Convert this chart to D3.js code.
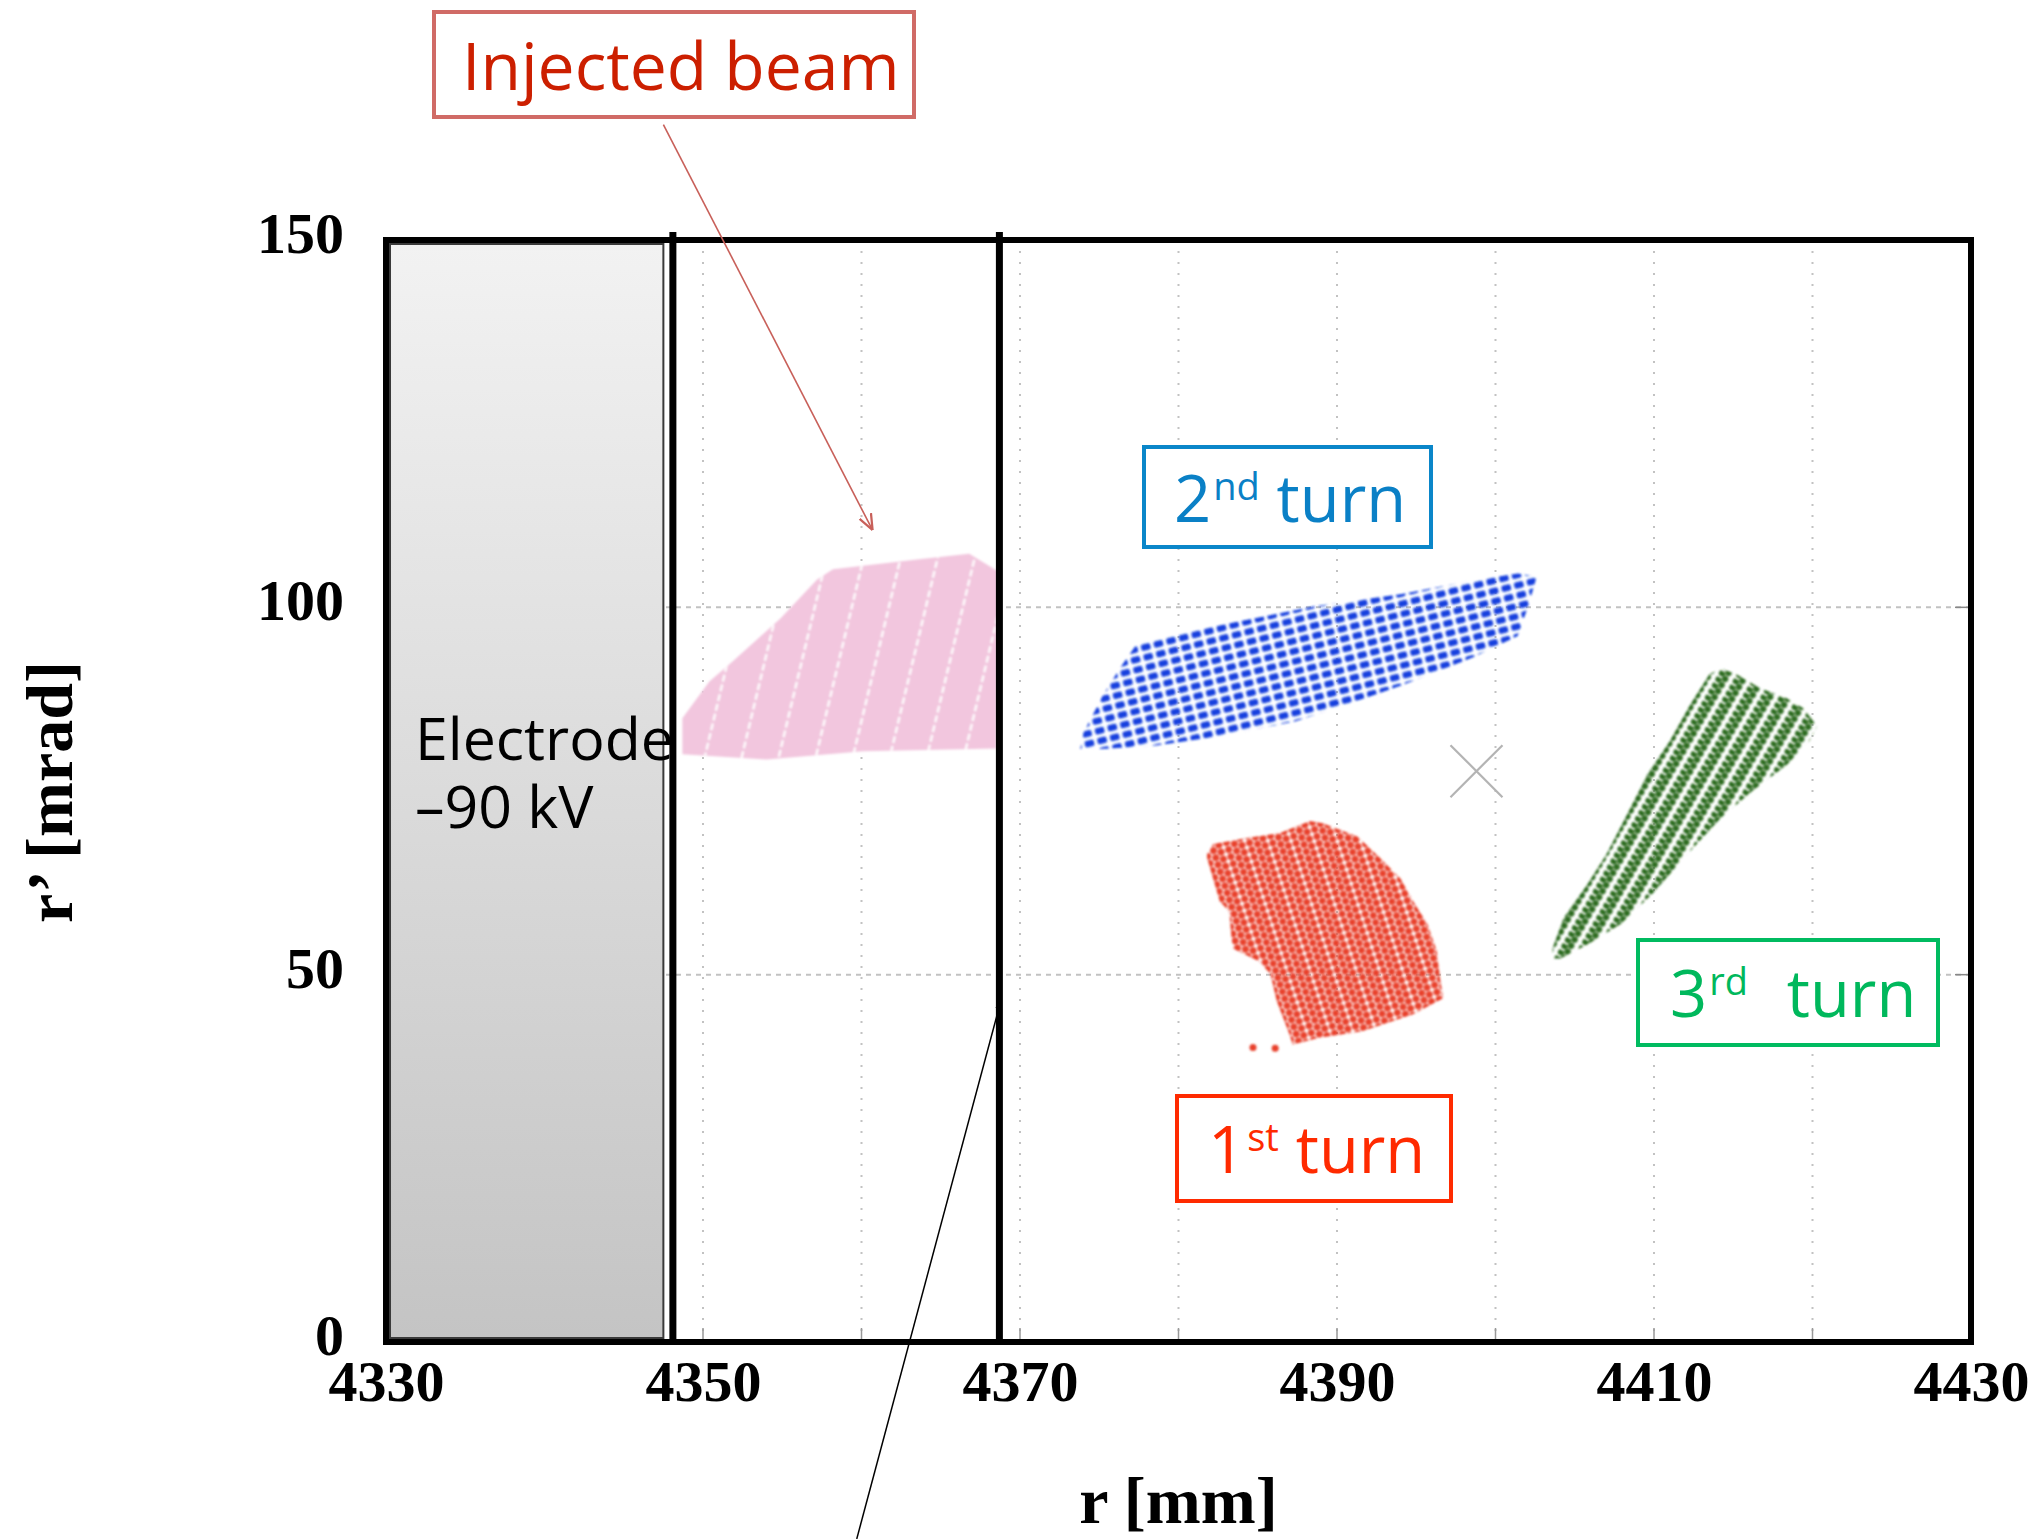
<!DOCTYPE html>
<html>
<head>
<meta charset="utf-8">
<script src="https://cdn.jsdelivr.net/npm/d3@7"></script>
<style>
  body { margin: 0; background: #fff; }
  svg { display: block; }
</style>
</head>
<body>
<div id="chart"></div>
<script>
// axis ticks and grid
const xTicks = [4330, 4350, 4370, 4390, 4410, 4430];
const yTicks = [0, 50, 100, 150];
const xGrid = [4340, 4350, 4360, 4370, 4380, 4390, 4400, 4410, 4420];
const yGrid = [50, 100];

// electrode and the two septum walls (r in mm)
const electrode = [4330, 4347.5];
const walls = [4348.1, 4368.7];
const closedOrbit = [4398.8, 77.7];

// beam outlines: [r (mm), r' (mrad)]
const injectedBeam = [
  [4348.7, 84.9], [4350.4, 89.9], [4351.9, 92.7], [4354.9, 98.5], [4357.2, 103.8],
  [4358.2, 105.2], [4363.5, 106.5], [4366.8, 107.3], [4368.6, 104.9], [4368.5, 80.8],
  [4360.1, 80.4], [4354.0, 79.3], [4348.7, 80.0]
];
const turn1Beam = [
  [4381.8, 66.4], [4382.2, 67.8], [4384.3, 68.6], [4386.4, 69.3], [4388.3, 70.9],
  [4389.1, 70.6], [4391.3, 68.8], [4392.7, 65.9], [4394.0, 63.1], [4394.8, 60.0],
  [4395.7, 56.9], [4396.3, 53.2], [4396.5, 49.5], [4396.7, 46.8], [4394.8, 44.6],
  [4391.6, 42.3], [4388.9, 41.4], [4387.2, 40.5], [4387.0, 41.9], [4386.2, 46.4],
  [4385.8, 50.1], [4385.1, 51.8], [4383.4, 53.6], [4383.2, 58.6], [4382.6, 60.0],
  [4381.8, 65.9]
];
const turn1Strays = [[4384.7, 40.1], [4386.1, 40.0]];
const turn2Beam = [
  [4373.8, 80.7], [4374.0, 82.9], [4375.2, 87.9], [4376.3, 91.7], [4377.4, 95.1],
  [4379.7, 96.3], [4384.1, 98.2], [4388.5, 100.1], [4394.1, 101.8], [4398.6, 103.7],
  [4401.4, 104.6], [4402.6, 104.2], [4402.1, 100.4], [4401.4, 96.1], [4398.6, 93.2],
  [4394.1, 89.4], [4390.8, 86.9], [4387.4, 84.5], [4383.0, 82.6], [4378.6, 81.2],
  [4375.2, 80.7]
];
const turn3Beam = [
  [4403.6, 52.2], [4403.6, 53.6], [4404.3, 57.7], [4405.8, 62.3], [4407.0, 66.4],
  [4408.3, 71.8], [4409.6, 77.3], [4411.0, 81.8], [4412.3, 86.8], [4413.5, 90.9],
  [4414.2, 91.7], [4415.2, 90.9], [4416.7, 89.0], [4418.4, 87.6], [4419.4, 86.3],
  [4420.3, 83.8], [4419.8, 81.8], [4418.4, 78.6], [4416.2, 75.0], [4414.2, 71.3],
  [4412.1, 66.4], [4409.9, 61.0], [4407.9, 56.9], [4405.8, 54.1], [4404.1, 52.2]
];

// arrows: [from, to] in data units
const injectArrow = [[4347.5, 165.7], [4360.7, 110.5]];
const wallArrow = [[4359.7, -26.8], [4368.8, 46.5]];

drawChart();

function drawChart() {
  const width = 2036, height = 1539;

  const svg = d3.select("#chart")
    .append("svg")
    .attr("width", width)
    .attr("height", height)
    .style("background", "#fff");

  const x = d3.scaleLinear().domain([4330, 4430]).range([386, 1971]);
  const y = d3.scaleLinear().domain([0, 150]).range([1342, 240]);

  const defs = svg.append("defs");

  const grad = defs.append("linearGradient")
    .attr("id", "electrode-grad")
    .attr("x1", 0).attr("y1", 0).attr("x2", 0).attr("y2", 1);
  grad.append("stop").attr("offset", "0%").attr("stop-color", "#f2f2f2");
  grad.append("stop").attr("offset", "100%").attr("stop-color", "#c4c4c4");

  defs.append("filter").attr("id", "soft")
    .append("feGaussianBlur").attr("stdDeviation", 0.8);

  // dot textures for the beams
  let pBlue = makePattern("dots-blue", 13, 10, -14);
  pBlue.append("rect").attr("x", 1.5).attr("y", 1.8).attr("width", 9.5).attr("height", 6.4)
    .attr("rx", 2).attr("fill", "#1440de");

  let pRed = makePattern("dots-red", 22, 7.4, -18);
  [4, 11.2, 18].forEach((cx, i) => {
    pRed.append("circle").attr("cx", cx).attr("cy", i === 1 ? 0 : 3.7).attr("r", 3.5).attr("fill", "#e8402c");
  });
  pRed.append("circle").attr("cx", 11.2).attr("cy", 7.4).attr("r", 3.5).attr("fill", "#e8402c");

  let pGreen = makePattern("dots-green", 16, 7, 30);
  pGreen.append("circle").attr("cx", 4).attr("cy", 2).attr("r", 3.2).attr("fill", "#2c6a1e");
  pGreen.append("circle").attr("cx", 9.5).attr("cy", 5.5).attr("r", 3.2).attr("fill", "#2c6a1e");
  pGreen.append("circle").attr("cx", 9.5).attr("cy", -1.5).attr("r", 3.2).attr("fill", "#2c6a1e");

  let pPink = makePattern("gaps-pink", 36, 10, 13.5);
  pPink.append("line").attr("x1", 34).attr("x2", 34).attr("y1", 0).attr("y2", 10)
    .attr("stroke", "#fff").attr("stroke-width", 2.2).attr("stroke-dasharray", "4 3");

  function makePattern(id, w, h, angle) {
    return defs.append("pattern")
      .attr("id", id)
      .attr("patternUnits", "userSpaceOnUse")
      .attr("width", w)
      .attr("height", h)
      .attr("patternTransform", "rotate(" + angle + ")");
  }

  defs.append("marker")
    .attr("id", "head-red")
    .attr("viewBox", "0 0 10 10")
    .attr("refX", 10).attr("refY", 5)
    .attr("markerUnits", "userSpaceOnUse")
    .attr("markerWidth", 16).attr("markerHeight", 16)
    .attr("orient", "auto")
    .append("path").attr("d", "M0,1 L10,5 L0,9")
    .attr("fill", "none").attr("stroke", "#c8605a").attr("stroke-width", 1.4);

  defs.append("marker")
    .attr("id", "head-black")
    .attr("viewBox", "0 0 10 10")
    .attr("refX", 10).attr("refY", 5)
    .attr("markerUnits", "userSpaceOnUse")
    .attr("markerWidth", 9).attr("markerHeight", 9)
    .attr("orient", "auto")
    .append("path").attr("d", "M0,1 L10,5 L0,9 Z")
    .attr("fill", "#000");

  // grid
  let grid = svg.append("g").attr("class", "grid");
  grid.selectAll(".vgrid")
    .data(xGrid)
    .enter().append("line")
    .attr("x1", d => x(d)).attr("x2", d => x(d))
    .attr("y1", y(150)).attr("y2", y(0))
    .attr("stroke", "#c2c2c2").attr("stroke-width", 2)
    .attr("stroke-dasharray", "2 9");
  grid.selectAll(".hgrid")
    .data(yGrid)
    .enter().append("line")
    .attr("x1", x(4330)).attr("x2", x(4430))
    .attr("y1", d => y(d)).attr("y2", d => y(d))
    .attr("stroke", "#c2c2c2").attr("stroke-width", 2)
    .attr("stroke-dasharray", "5 5");
  // short inner ticks
  grid.selectAll(".btick")
    .data(xGrid)
    .enter().append("line")
    .attr("x1", d => x(d)).attr("x2", d => x(d))
    .attr("y1", y(0) - 14).attr("y2", y(0))
    .attr("stroke", "#999").attr("stroke-width", 1.5);
  grid.selectAll(".rtick")
    .data(yGrid)
    .enter().append("line")
    .attr("x1", x(4430) - 16).attr("x2", x(4430))
    .attr("y1", d => y(d)).attr("y2", d => y(d))
    .attr("stroke", "#888").attr("stroke-width", 1.5);

  // electrode
  svg.append("rect")
    .attr("x", x(electrode[0]) + 4)
    .attr("y", y(150) + 4)
    .attr("width", x(electrode[1]) - x(electrode[0]) - 4)
    .attr("height", y(0) - y(150) - 8)
    .attr("fill", "url(#electrode-grad)")
    .attr("stroke", "#3a3a3a")
    .attr("stroke-width", 2);

  svg.append("text")
    .attr("x", 415)
    .attr("font-family", "'Open Sans', sans-serif")
    .attr("font-size", 59)
    .attr("fill", "#000")
    .selectAll("tspan")
    .data(["Electrode", "\u201390 kV"])
    .enter().append("tspan")
    .attr("x", 415)
    .attr("y", (d, i) => 760 + i * 68)
    .text(d => d);

  // beams
  const line = d3.line().x(d => x(d[0])).y(d => y(d[1]));
  const beams = svg.append("g").attr("filter", "url(#soft)");

  beams.append("path")
    .attr("d", line(injectedBeam) + "Z")
    .attr("fill", "#f2c6de");
  beams.append("path")
    .attr("d", line(injectedBeam) + "Z")
    .attr("fill", "url(#gaps-pink)");
  beams.append("path")
    .attr("d", line(turn2Beam) + "Z")
    .attr("fill", "url(#dots-blue)");
  beams.append("path")
    .attr("d", line(turn1Beam) + "Z")
    .attr("fill", "url(#dots-red)");
  beams.selectAll(".stray")
    .data(turn1Strays)
    .enter().append("circle")
    .attr("cx", d => x(d[0])).attr("cy", d => y(d[1]))
    .attr("r", 3.5).attr("fill", "#e8402c");
  beams.append("path")
    .attr("d", line(turn3Beam) + "Z")
    .attr("fill", "url(#dots-green)");

  // closed orbit cross
  let cx = x(closedOrbit[0]), cy = y(closedOrbit[1]);
  svg.append("path")
    .attr("d", `M${cx - 26},${cy - 26}L${cx + 26},${cy + 26}M${cx - 26},${cy + 26}L${cx + 26},${cy - 26}`)
    .attr("stroke", "#b4b4b4").attr("stroke-width", 2.2).attr("fill", "none");

  // frame
  svg.append("rect")
    .attr("x", x(4330)).attr("y", y(150))
    .attr("width", x(4430) - x(4330))
    .attr("height", y(0) - y(150))
    .attr("fill", "none")
    .attr("stroke", "#000")
    .attr("stroke-width", 6);

  // septum walls
  svg.selectAll(".wall")
    .data(walls)
    .enter().append("line")
    .attr("x1", d => x(d)).attr("x2", d => x(d))
    .attr("y1", y(150) - 8).attr("y2", y(0))
    .attr("stroke", "#000").attr("stroke-width", 7);

  // axes
  const xAxis = svg.append("g")
    .attr("transform", translate(0, y(0)))
    .call(d3.axisBottom(x).tickValues(xTicks).tickSize(0).tickPadding(18).tickFormat(d3.format("d")));
  const yAxis = svg.append("g")
    .attr("transform", translate(x(4330), 0))
    .call(d3.axisLeft(y).tickValues(yTicks).tickSize(0).tickPadding(42).tickFormat(d3.format("d")));
  [xAxis, yAxis].forEach(a => {
    a.select(".domain").remove();
    a.selectAll("text")
      .attr("font-family", "'Liberation Serif', 'Times New Roman', serif")
      .attr("font-weight", "bold")
      .attr("font-size", 58)
      .attr("fill", "#000");
  });
  yAxis.selectAll("text").attr("dy", "0.215em");

  svg.append("text")
    .attr("x", (x(4330) + x(4430)) / 2)
    .attr("y", 1523)
    .attr("text-anchor", "middle")
    .attr("font-family", "'Liberation Serif', serif")
    .attr("font-weight", "bold")
    .attr("font-size", 66)
    .text("r [mm]");

  svg.append("text")
    .attr("transform", translate(72, 792) + " rotate(-90)")
    .attr("text-anchor", "middle")
    .attr("font-family", "'Liberation Serif', serif")
    .attr("font-weight", "bold")
    .attr("font-size", 66)
    .text("r\u2019 [mrad]");

  // annotation arrows
  svg.append("line")
    .attr("x1", x(injectArrow[0][0])).attr("y1", y(injectArrow[0][1]))
    .attr("x2", x(injectArrow[1][0])).attr("y2", y(injectArrow[1][1]))
    .attr("stroke", "#c8605a").attr("stroke-width", 1.6)
    .attr("marker-end", "url(#head-red)");
  svg.append("line")
    .attr("x1", x(wallArrow[0][0])).attr("y1", y(wallArrow[0][1]))
    .attr("x2", x(wallArrow[1][0])).attr("y2", y(wallArrow[1][1]))
    .attr("stroke", "#000").attr("stroke-width", 1.5)
    .attr("marker-end", "url(#head-black)");

  // annotation boxes
  labelBox(434, 12, 480, 105, "#d06b66", "#cc1f00", 462, 90, 66, "Injected beam", "", "", 0);
  labelBox(1144, 447, 287, 100, "#0a86c9", "#0a80c6", 1174, 522, 65, "2", "nd", " turn", 0);
  labelBox(1177, 1096, 274, 105, "#ff2a00", "#ff2a00", 1208, 1173, 65, "1", "st", " turn", 0);
  labelBox(1638, 940, 300, 105, "#00bb60", "#00b85c", 1670, 1017, 65, "3", "rd", " turn", 22);

  function labelBox(bx, by, bw, bh, stroke, color, tx, ty, fs, main, sup, rest, gap) {
    let g = svg.append("g");
    g.append("rect")
      .attr("x", bx).attr("y", by)
      .attr("width", bw).attr("height", bh)
      .attr("fill", "#fff")
      .attr("stroke", stroke)
      .attr("stroke-width", 4);
    let t = g.append("text")
      .attr("x", tx).attr("y", ty)
      .attr("font-family", "'Open Sans', sans-serif")
      .attr("font-size", fs)
      .attr("fill", color);
    t.append("tspan").text(main);
    if (sup) {
      t.append("tspan").attr("font-size", 38).attr("dy", -22).attr("dx", 2).text(sup);
      t.append("tspan").attr("dy", 22).attr("dx", gap).text(rest);
    }
  }

  function translate(a, b) {
    return "translate(" + a + "," + b + ")";
  }
}
</script>
</body>
</html>
